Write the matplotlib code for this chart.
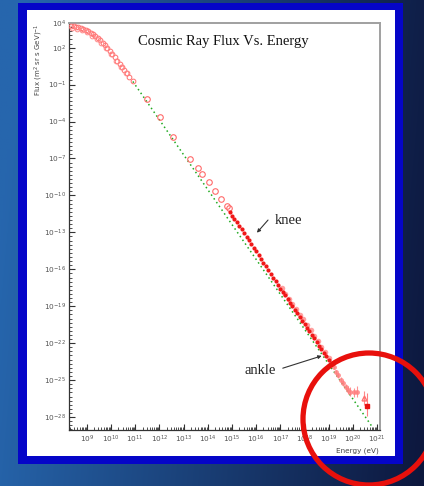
import numpy as np
import matplotlib
matplotlib.use("Agg")
import matplotlib.pyplot as plt
from matplotlib.patches import Rectangle, Circle
from matplotlib.ticker import FixedLocator, FixedFormatter, NullFormatter

# ---- data (log10 of energy in eV, log10 of flux) ----
low_logE = [8.35, 8.45, 8.55, 8.65, 8.75, 8.85, 8.95, 9.05, 9.15, 9.25, 9.35,
            9.45, 9.55, 9.65, 9.75, 9.85, 9.95, 10.05, 10.15, 10.25, 10.35,
            10.45, 10.55, 10.65, 10.75, 10.9]
low_logF = [3.74, 3.72, 3.70, 3.66, 3.62, 3.55, 3.45, 3.35, 3.22, 3.08, 2.95,
            2.80, 2.62, 2.40, 2.20, 1.98, 1.74, 1.48, 1.22, 0.95, 0.68,
            0.42, 0.15, -0.10, -0.35, -0.75]

low2_logE = [8.4, 8.6, 8.8, 9.0, 9.2, 9.4, 9.6, 9.8, 10.0, 10.2, 10.4, 10.6]
low2_logF = [3.60, 3.55, 3.45, 3.25, 2.98, 2.68, 2.35, 1.95, 1.45, 0.95, 0.42,
             -0.10]

mid_logE = [11.47, 12.02, 12.58, 13.27, 13.61, 13.75, 14.03, 14.30, 14.54,
            14.79, 14.86]
mid_logF = [-2.21, -3.62, -5.25, -7.08, -7.81, -8.27, -8.90, -9.62, -10.32,
            -10.86, -11.05]

knee_logE = [14.9, 15.0, 15.1, 15.2, 15.3, 15.4, 15.5, 15.6, 15.7, 15.8, 15.9,
             16.0, 16.1, 16.2, 16.3, 16.4, 16.5, 16.6, 16.7, 16.8, 16.9, 17.0,
             17.1, 17.2, 17.3, 17.4, 17.5, 17.6, 17.7, 17.8, 17.9, 18.0, 18.1,
             18.2, 18.3, 18.4, 18.5, 18.6, 18.7, 18.8, 18.9, 19.0]
knee_logF = [-11.38, -11.65, -11.93, -12.20, -12.48, -12.76, -13.05, -13.34,
             -13.64, -13.94, -14.24, -14.55, -14.85, -15.15, -15.45, -15.76,
             -16.06, -16.37, -16.67, -16.98, -17.28, -17.58, -17.88, -18.10,
             -18.40, -18.70, -18.99, -19.29, -19.58, -19.87, -20.16, -20.45,
             -20.74, -21.03, -21.32, -21.61, -21.90, -22.19, -22.48, -22.77,
             -23.05, -23.33]

air_logE = [17.05, 17.2, 17.35, 17.5, 17.65, 17.8, 17.95, 18.1, 18.25, 18.4,
            18.55, 18.7, 18.85, 19.0, 19.15]
air_logF = [-17.55, -18.0, -18.38, -18.85, -19.25, -19.70, -20.05, -20.55,
            -20.95, -21.40, -21.80, -22.28, -22.70, -23.20, -23.65]

uhe_logE = [19.1, 19.2, 19.3, 19.4, 19.5, 19.6, 19.7, 19.8, 19.9, 20.05, 20.16]
uhe_logF = [-23.62, -23.95, -24.35, -24.62, -24.95, -25.25, -25.55, -25.80,
            -25.93, -26.00, -25.93]
uhe_err = [0.10, 0.12, 0.15, 0.18, 0.20, 0.22, 0.25, 0.30, 0.35, 0.40, 0.45]

top_logE = [20.44]
top_logF = [-26.46]
top_err = [0.55]
last_logE = [20.57]
last_logF = [-27.14]
last_err_up = [1.1]
last_err_dn = [0.8]

# E^-2.8 reference power law (end points)
fit_logE = [10.9, 20.8]
fit_logF = [-0.75, -28.80]

xtick_exp = list(range(9, 22))
ytick_exp = [4, 2, -1, -4, -7, -10, -13, -16, -19, -22, -25, -28]


def p10(v):
    return np.power(10.0, np.asarray(v, dtype=float))


W, H = 424, 486
fig = plt.figure(figsize=(W / 100, H / 100), dpi=100)

# ---- slide background ----
bg = fig.add_axes([0, 0, 1, 1], zorder=-10)
bg.set_xlim(0, W)
bg.set_ylim(H, 0)
bg.axis("off")
gx = np.linspace(0, 1, 200)[None, :]
gy = np.linspace(0, 1, 200)[:, None]
left_c = np.array([0.15, 0.40, 0.68])
right_c = np.array([0.05, 0.09, 0.24])
t = np.clip(gx * 0.95 + 0.1 * gy - 0.05, 0, 1)[..., None]
grad = left_c * (1 - t) + right_c * t
bg.imshow(grad, extent=(0, W, H, 0), aspect="auto", interpolation="bilinear")
bg.add_patch(Rectangle((18, 3), 385, 461, facecolor="#0505c8", edgecolor="none"))
bg.add_patch(Rectangle((27, 10), 368, 446, facecolor="white", edgecolor="none"))

# ---- main plot ----
ax_l, ax_r, ax_t, ax_b = 69, 380, 23, 430
ax = fig.add_axes([ax_l / W, 1 - ax_b / H, (ax_r - ax_l) / W, (ax_b - ax_t) / H])
ax.set_xscale("log")
ax.set_yscale("log")
ax.set_xlim(10 ** 8.26, 10 ** 21.12)
ax.set_ylim(10 ** -29.05, 10 ** 4)

ax.plot(p10(fit_logE), p10(fit_logF), linestyle=(0, (1, 2)), color="#22aa22",
        lw=1.1, zorder=2)

ax.plot(p10(low_logE), p10(low_logF), "o", mfc="none", mec="#ff7070", mew=0.7,
        ms=3.4, zorder=3)
ax.plot(p10(low2_logE), p10(low2_logF), "o", mfc="none", mec="#ff8a8a",
        mew=0.7, ms=3.4, zorder=3)
ax.plot(p10(mid_logE), p10(mid_logF), "o", mfc="none", mec="#ff6a6a", mew=0.8,
        ms=4.0, zorder=3)

ax.plot(p10(air_logE), p10(air_logF), "o", color="#ff8a8a", ms=4.0, alpha=0.8,
        mec="none", zorder=3)
ax.plot(p10(knee_logE), p10(knee_logF), "o", color="#f01818", ms=3.0,
        mec="none", zorder=4)

uE = p10(uhe_logE)
uF = p10(uhe_logF)
ue = np.asarray(uhe_err)
ax.errorbar(uE, uF, yerr=[uF - uF * 10 ** -ue, uF * 10 ** ue - uF], fmt="o",
            color="#ff8080", ms=3.5, mec="none", elinewidth=0.8, alpha=0.85,
            zorder=3)
tE, tF, te = p10(top_logE), p10(top_logF), np.asarray(top_err)
ax.errorbar(tE, tF, yerr=[tF - tF * 10 ** -te, tF * 10 ** te - tF], fmt="^",
            mfc="none", mec="#ff7070", ecolor="#ff8a8a", ms=3.5, elinewidth=0.8,
            zorder=3)
lE, lF = p10(last_logE), p10(last_logF)
ax.errorbar(lE, lF, yerr=[lF - lF * 10 ** -np.asarray(last_err_dn),
                          lF * 10 ** np.asarray(last_err_up) - lF],
            fmt="s", color="#e81010", ms=2.8, elinewidth=0.8, ecolor="#ff8080",
            zorder=4)

# axes styling
for s in ("left", "bottom"):
    ax.spines[s].set_color("#333333")
    ax.spines[s].set_linewidth(0.9)
for s in ("top", "right"):
    ax.spines[s].set_color("#a0a0a0")
    ax.spines[s].set_linewidth(1.4)

ax.xaxis.set_major_locator(FixedLocator([10.0 ** e for e in xtick_exp]))
ax.xaxis.set_major_formatter(FixedFormatter([rf"$10^{{{e}}}$" for e in xtick_exp]))
xminor = [m * 10.0 ** e for e in range(8, 22) for m in range(2, 10)]
ax.xaxis.set_minor_locator(FixedLocator(xminor))
ax.xaxis.set_minor_formatter(NullFormatter())

ax.yaxis.set_major_locator(FixedLocator([10.0 ** e for e in ytick_exp]))
ax.yaxis.set_major_formatter(FixedFormatter([rf"$10^{{{e}}}$" for e in ytick_exp]))
yminor = [10.0 ** (k / 3) for k in range(-88, 13)]
ax.yaxis.set_minor_locator(FixedLocator(yminor))
ax.yaxis.set_minor_formatter(NullFormatter())

ax.tick_params(which="both", direction="in", top=False, right=False,
               colors="#333333", labelcolor="#555555", labelsize=5.3)
ax.tick_params(which="major", length=4.5, width=0.8)
ax.tick_params(which="minor", length=2.2, width=0.6)
ax.tick_params(axis="x", pad=2.5)
ax.tick_params(axis="y", pad=2)

ax.text(0.496, 0.955, "Cosmic Ray Flux Vs. Energy", transform=ax.transAxes,
        ha="center", va="center", fontsize=10.5, family="Liberation Serif",
        color="#111111")

ax.annotate("", xy=(10 ** 16.03, 10 ** -13.03), xytext=(10 ** 16.49, 10 ** -12.0),
            arrowprops=dict(arrowstyle="-|>", color="#333333", lw=0.8,
                            mutation_scale=5, shrinkA=0, shrinkB=0))
ax.text(10 ** 16.78, 10 ** -12.06, "knee", ha="left", va="center", fontsize=10.5,
        family="Liberation Serif", color="#222222")
ax.annotate("", xy=(10 ** 18.71, 10 ** -23.03), xytext=(10 ** 17.10, 10 ** -24.03),
            arrowprops=dict(arrowstyle="-|>", color="#333333", lw=0.8,
                            mutation_scale=5, shrinkA=0, shrinkB=0))
ax.text(10 ** 16.16, 10 ** -24.22, "ankle", ha="center", va="center",
        fontsize=10.5, family="Liberation Serif", color="#222222")

fig.text(39 / W, 1 - 23 / H, r"Flux (m$^2$ sr s GeV)$^{-1}$", rotation=90,
         ha="center", va="top", fontsize=5, color="#444444")
fig.text(379 / W, 1 - 451 / H, "Energy (eV)", ha="right", va="center",
         fontsize=5.2, color="#444444")

# ---- highlight ring ----
ov = fig.add_axes([0, 0, 1, 1], zorder=20)
ov.set_xlim(0, W)
ov.set_ylim(H, 0)
ov.axis("off")
ov.patch.set_alpha(0)
ov.add_patch(Circle((369, 419), 66, facecolor="none", edgecolor="#e8100c", lw=3.8))

fig.savefig("out.png", dpi=100)
